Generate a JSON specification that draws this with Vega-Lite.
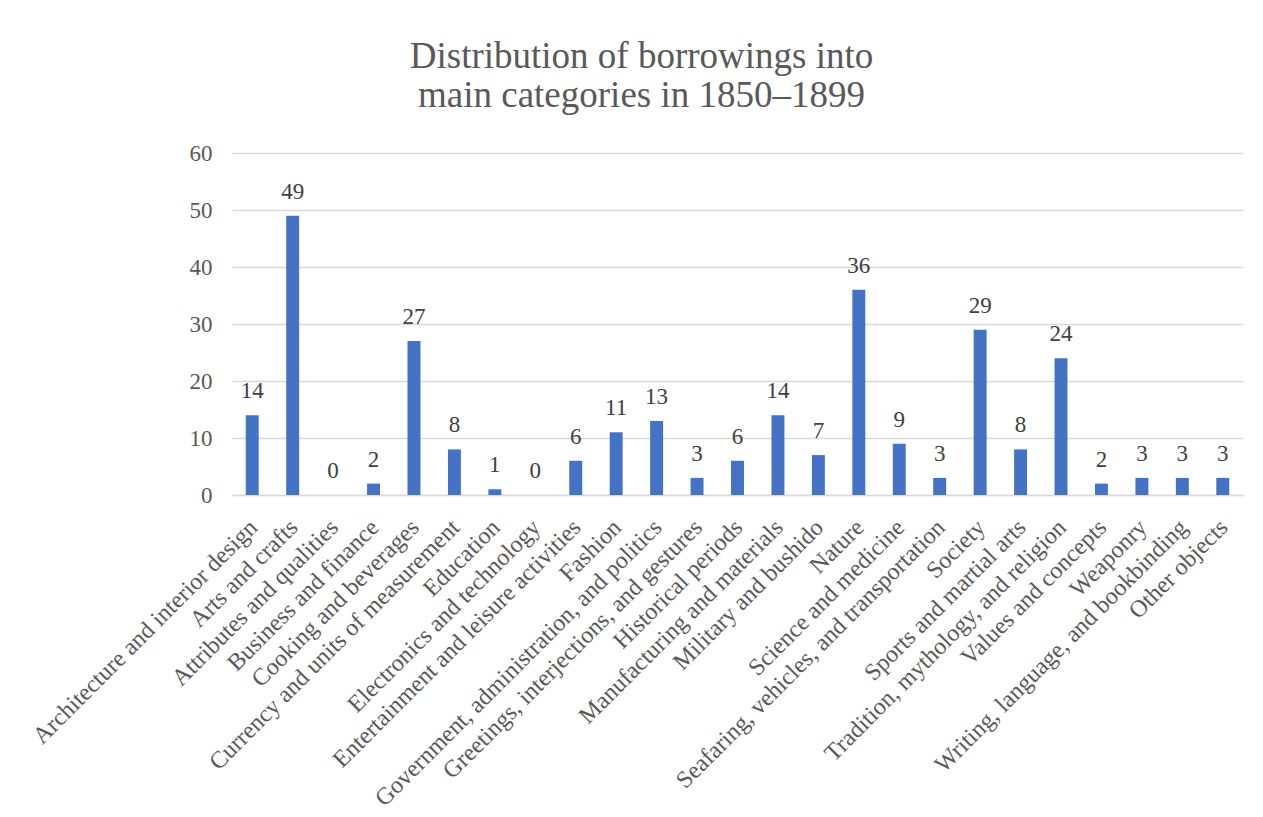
{
  "$schema": "https://vega.github.io/schema/vega-lite/v6.json",
  "autosize": "none",
  "width": 1011,
  "height": 342,
  "padding": {"left": 232, "top": 153, "right": 20, "bottom": 322},
  "background": "white",
  "title": {
    "text": ["Distribution of borrowings into", "main categories in 1850–1899"],
    "font": "Liberation Serif",
    "fontSize": 37,
    "fontWeight": "normal",
    "color": "#595959",
    "lineHeight": 39,
    "anchor": "middle",
    "dx": -96,
    "offset": 27
  },
  "data": {
    "values": [
      {"category": "Architecture and interior design", "count": 14},
      {"category": "Arts and crafts", "count": 49},
      {"category": "Attributes and qualities", "count": 0},
      {"category": "Business and finance", "count": 2},
      {"category": "Cooking and beverages", "count": 27},
      {"category": "Currency and units of measurement", "count": 8},
      {"category": "Education", "count": 1},
      {"category": "Electronics and technology", "count": 0},
      {"category": "Entertainment and leisure activities", "count": 6},
      {"category": "Fashion", "count": 11},
      {"category": "Government, administration, and politics", "count": 13},
      {"category": "Greetings, interjections, and gestures", "count": 3},
      {"category": "Historical periods", "count": 6},
      {"category": "Manufacturing and materials", "count": 14},
      {"category": "Military and bushido", "count": 7},
      {"category": "Nature", "count": 36},
      {"category": "Science and medicine", "count": 9},
      {"category": "Seafaring, vehicles, and transportation", "count": 3},
      {"category": "Society", "count": 29},
      {"category": "Sports and martial arts", "count": 8},
      {"category": "Tradition, mythology, and religion", "count": 24},
      {"category": "Values and concepts", "count": 2},
      {"category": "Weaponry", "count": 3},
      {"category": "Writing, language, and bookbinding", "count": 3},
      {"category": "Other objects", "count": 3}
    ]
  },
  "encoding": {
    "x": {
      "field": "category",
      "type": "nominal",
      "sort": null,
      "scale": {"paddingInner": 0.68, "paddingOuter": 0.34},
      "axis": {
        "title": null,
        "labelAngle": -45,
        "labelFont": "Liberation Serif",
        "labelFontSize": 24,
        "labelColor": "#595959",
        "labelPadding": 20,
        "labelOffset": -7,
        "labelLimit": 0,
        "ticks": false,
        "domainColor": "#d9d9d9",
        "domainWidth": 1.5,
        "grid": false
      }
    },
    "y": {
      "field": "count",
      "type": "quantitative",
      "scale": {"domain": [0, 60], "nice": false},
      "axis": {
        "title": null,
        "values": [0, 10, 20, 30, 40, 50, 60],
        "labelFont": "Liberation Serif",
        "labelFontSize": 23,
        "labelColor": "#595959",
        "labelPadding": 20,
        "ticks": false,
        "domain": false,
        "gridColor": "#d9d9d9",
        "gridWidth": 1.5
      }
    }
  },
  "layer": [
    {"mark": {"type": "bar", "color": "#4472C4"}},
    {
      "mark": {
        "type": "text",
        "font": "Liberation Serif",
        "fontSize": 23,
        "color": "#404040",
        "baseline": "alphabetic",
        "dy": -17
      },
      "encoding": {"text": {"field": "count", "type": "quantitative"}}
    }
  ],
  "config": {"view": {"stroke": null}}
}
